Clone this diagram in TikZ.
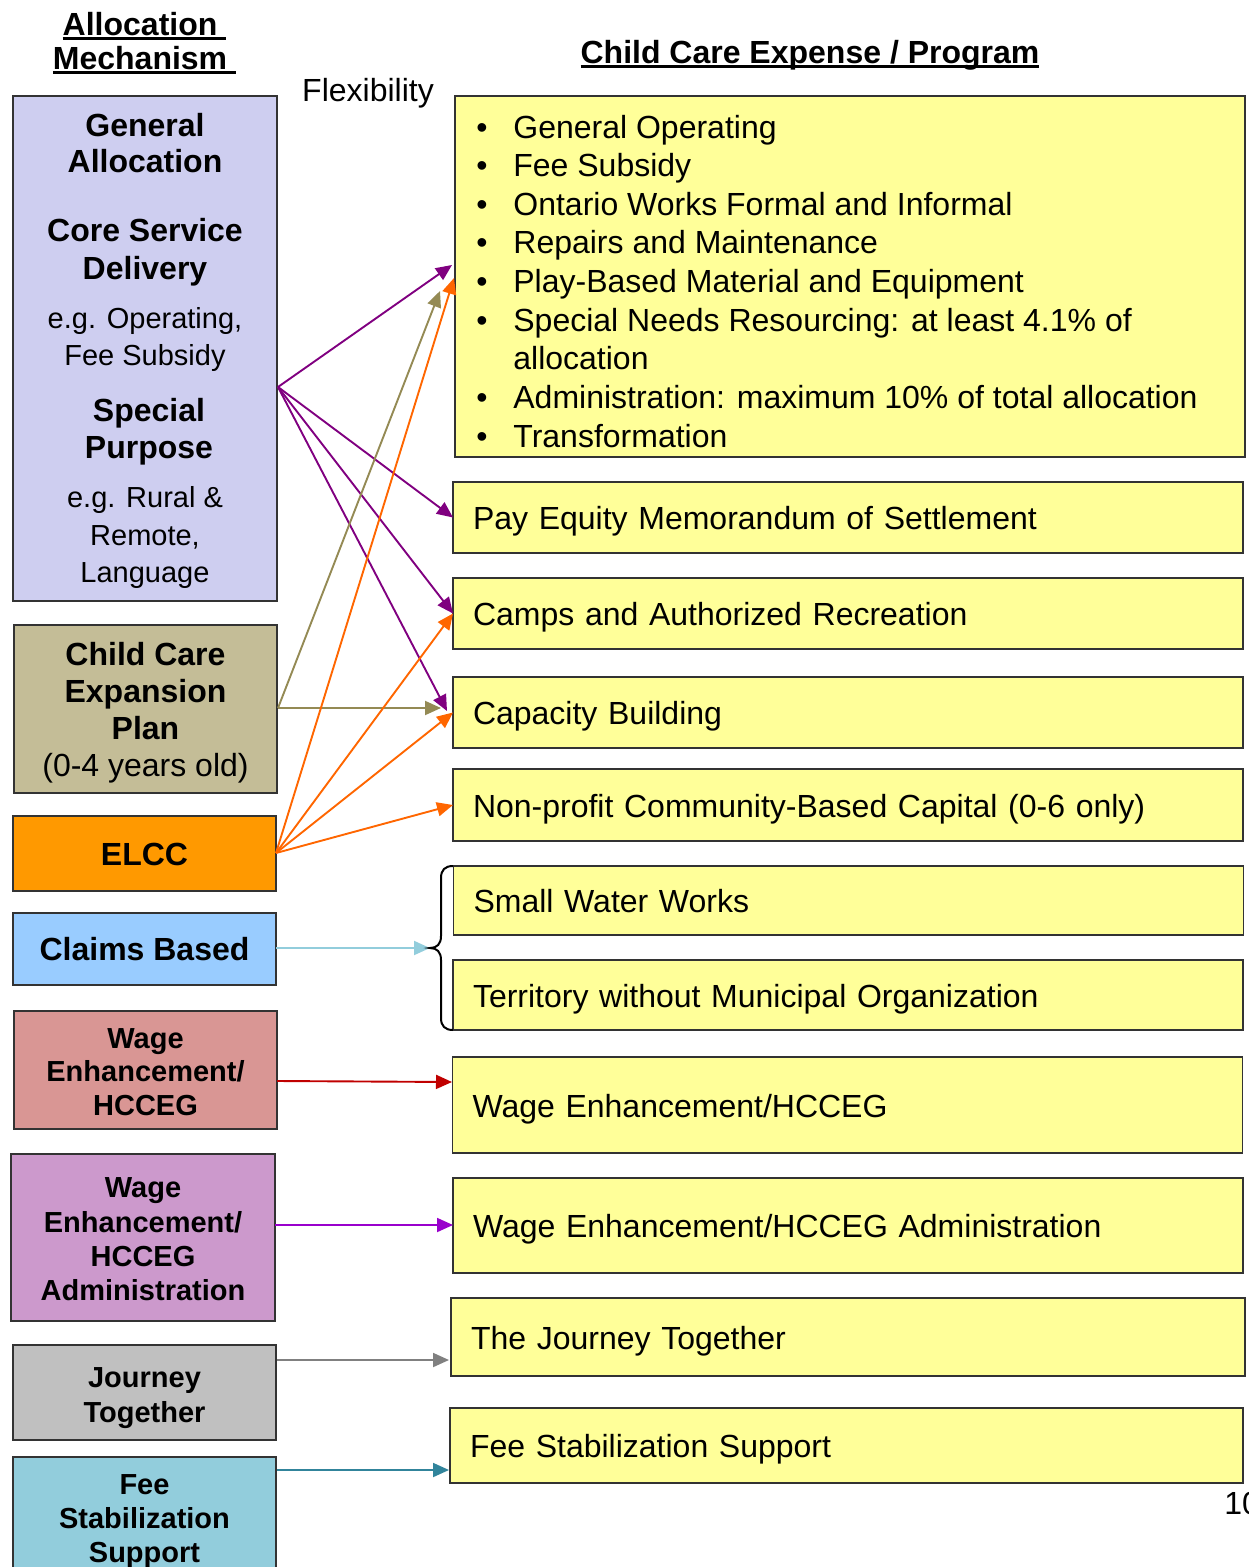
\documentclass[tikz,border=0pt]{standalone}
\usepackage{fontspec}
\setmainfont{Liberation Sans}
\usetikzlibrary{arrows.meta}
\definecolor{cGA}{RGB}{206,206,240}
\definecolor{cCC}{RGB}{196,189,151}
\definecolor{cEL}{RGB}{255,153,0}
\definecolor{cCL}{RGB}{153,204,255}
\definecolor{cWE}{RGB}{217,150,148}
\definecolor{cWA}{RGB}{204,153,204}
\definecolor{cJT}{RGB}{192,192,192}
\definecolor{cFS}{RGB}{146,205,220}
\definecolor{cYel}{RGB}{255,255,153}
\definecolor{aPur}{RGB}{128,0,128}
\definecolor{aTan}{RGB}{148,138,84}
\definecolor{aOra}{RGB}{255,102,0}
\definecolor{aCla}{RGB}{146,205,220}
\definecolor{aRed}{RGB}{192,0,0}
\definecolor{aVio}{RGB}{153,0,204}
\definecolor{aGry}{RGB}{128,128,128}
\definecolor{aTea}{RGB}{49,132,155}
\newcommand{\myul}[1]{\setbox0\hbox{#1}\rlap{\rule[-2.4pt]{\wd0}{1.4pt}}\box0}
\newcommand{\bul}{\makebox[18.5pt][l]{•}}
\begin{document}
\begin{tikzpicture}[x=0.5pt,y=-0.5pt,
  box/.style={draw=black!80, line width=0.75pt, inner sep=0pt, outer sep=0pt},
  lbox/.style={box, minimum width=131.5pt},
  bigb/.style={font=\bfseries\fontsize{16}{18.5}\selectfont},
  rbox/.style={box, fill=cYel, text width=375pt, inner xsep=10pt, align=left, text height=14pt, text depth=2pt, font=\fontsize{16}{19.3}\selectfont},
  txt/.style={inner sep=0pt, align=center},
  arr/.style={line width=0.95pt, -{Triangle[length=8pt,width=7pt]}}
]
\useasboundingbox (0,0) rectangle (1248,1567);
% headers
\node[txt, font=\bfseries\fontsize{16}{17}\selectfont] (hL) at (144.5,43) {\myul{Allocation\ }\\\myul{Mechanism\ }};
\node[txt, font=\bfseries\fontsize{16}{17}\selectfont] (hR) at (810,55) {\myul{Child Care Expense / Program}};
\node[txt, font=\fontsize{16}{17}\selectfont] (flex) at (368,93) {Flexibility};
\node[txt, anchor=west, font=\fontsize{16}{17}\selectfont] (pg) at (1224,1503) {10};

% left boxes
\node[lbox, fill=cGA, minimum width=132pt, minimum height=252.5pt] (GA) at (145,348.5) {};
\node[txt, font=\bfseries\fontsize{16}{18}\selectfont] (ga1) at (145,143) {General\\Allocation};
\node[txt, font=\bfseries\fontsize{16}{19}\selectfont] (ga2) at (145,252) {Core Service\\Delivery};
\node[txt, font=\fontsize{14.5}{18.5}\selectfont] (ga3) at (145,339.5) {e.g. Operating,\\Fee Subsidy};
\node[txt, font=\bfseries\fontsize{16}{18.5}\selectfont] (ga4) at (149,431.5) {Special\\Purpose};
\node[txt, font=\fontsize{14.5}{18.75}\selectfont] (ga5) at (145,537.5) {e.g. Rural \&\\Remote,\\Language};

\node[lbox, fill=cCC, minimum height=84pt] (CC) at (145.5,709) {};
\node[txt, bigb] (CCt) at (145.5,713) {Child Care\\Expansion\\Plan\\{\mdseries (0-4 years old)}};
\node[lbox, fill=cEL, minimum height=37.5pt] (EL) at (144.5,853.5) {};
\node[txt, bigb] (ELt) at (144.5,854.5) {ELCC};
\node[lbox, fill=cCL, minimum height=36pt] (CL) at (144.5,949) {};
\node[txt, bigb] (CLt) at (144.5,949) {Claims Based};
\node[lbox, fill=cWE, minimum height=59pt] (WE) at (145.5,1070) {};
\node[txt, font=\bfseries\fontsize{14.5}{16.75}\selectfont] (WEt) at (145.5,1072) {Wage\\Enhancement/\\HCCEG};
\node[lbox, fill=cWA, minimum width=132pt, minimum height=83.5pt] (WA) at (143,1237.5) {};
\node[txt, font=\bfseries\fontsize{14.5}{17.2}\selectfont] (WAt) at (143,1239.5) {Wage\\Enhancement/\\HCCEG\\Administration};
\node[lbox, fill=cJT, minimum height=47.5pt] (JT) at (144.5,1392.5) {};
\node[txt, font=\bfseries\fontsize{14.5}{17.5}\selectfont] (JTt) at (144.5,1398) {Journey\\Together};
\node[lbox, fill=cFS, minimum height=61.5pt] (FS) at (144.5,1518.5) {};
\node[txt, font=\bfseries\fontsize{14.5}{17}\selectfont] (FSt) at (144.5,1521.5) {Fee\\Stabilization\\Support};

% right boxes
\node[box, fill=cYel, minimum width=395pt, minimum height=180.5pt] (A) at (850,276.5) {};
\node[inner sep=0pt, anchor=base west, align=left, font=\fontsize{16}{19.3}\selectfont] (Alist) at (476,447) {%
\bul General Operating\\
\bul Fee Subsidy\\
\bul Ontario Works Formal and Informal\\
\bul Repairs and Maintenance\\
\bul Play-Based Material and Equipment\\
\bul Special Needs Resourcing: at least 4.1\% of\\
\hspace*{18.5pt}allocation\\
\bul Administration: maximum 10\% of total allocation\\
\bul Transformation};
\node[rbox, minimum height=35.5pt] (B) at (848,517.5) {Pay Equity Memorandum of Settlement};
\node[rbox, minimum height=35.5pt] (C) at (848,613.5) {Camps and Authorized Recreation};
\node[rbox, minimum height=35.5pt] (D) at (848,712.5) {Capacity Building};
\node[rbox, minimum height=36pt] (E) at (848,805) {Non-profit Community-Based Capital (0-6 only)};
\node[rbox, minimum height=34.5pt] (F) at (848.5,900.5) {Small Water Works};
\node[rbox, minimum height=35pt] (G) at (848,995) {Territory without Municipal Organization};
\node[rbox, minimum height=48pt] (H) at (847.5,1105) {Wage Enhancement/HCCEG};
\node[rbox, minimum height=47.5pt] (I) at (848,1225.5) {Wage Enhancement/HCCEG Administration};
\node[rbox, text width=377pt, minimum height=39pt] (J) at (848,1337) {The Journey Together};
\node[rbox, text width=376.5pt, minimum height=37.5pt] (K) at (846.5,1445.5) {Fee Stabilization Support};

% connector end points
\coordinate (gaO) at (278,387);
\coordinate (ccO) at (278,708);
\coordinate (elO) at (276,853);
\coordinate (aT1) at (452,265);
\coordinate (aT2) at (454,278);
\coordinate (aT3) at (440,291);
\coordinate (dT1) at (447,711);
\coordinate (dT2) at (441,708);
\coordinate (brT) at (430,948);
\coordinate (weO) at (277,1081);
\coordinate (hT) at (452,1082);
\coordinate (waO) at (275,1225);
\coordinate (iT) at (453,1225);
\coordinate (jtO) at (277,1360);
\coordinate (jT) at (449,1360);
\coordinate (fsO) at (277,1470);
\coordinate (kT) at (449,1470);

% arrows
\draw[arr, aPur] (gaO) -- (aT1);
\draw[arr, aPur] (gaO) -- (B.west);
\draw[arr, aPur] (gaO) -- (C.west);
\draw[arr, aPur] (gaO) -- (dT1);
\draw[arr, aTan] (ccO) -- (aT3);
\draw[arr, aTan] (ccO) -- (dT2);
\draw[arr, aOra] (elO) -- (aT2);
\draw[arr, aOra] (elO) -- (C.west);
\draw[arr, aOra] (elO) -- (D.west);
\draw[arr, aOra] (elO) -- (E.west);
\draw[arr, aCla] (CL.east |- brT) -- (brT);
\draw[arr, aRed] (weO) -- (hT);
\draw[arr, aVio] (waO) -- (iT);
\draw[arr, aGry] (jtO) -- (jT);
\draw[arr, aTea] (fsO) -- (kT);

% brace
\draw[line width=1pt] (453,866) .. controls (445,866) and (441,870) .. (441,878) -- (441,936) .. controls (441,944) and (437,948) .. (430,948) .. controls (437,948) and (441,952) .. (441,960) -- (441,1018) .. controls (441,1026) and (445,1030) .. (453,1030);
\end{tikzpicture}
\end{document}
